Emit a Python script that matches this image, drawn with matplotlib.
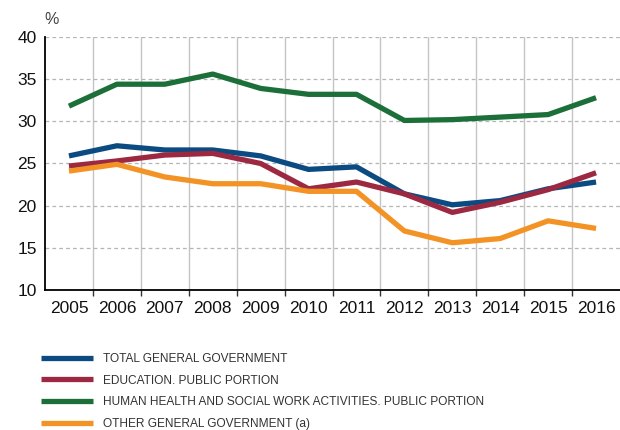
import matplotlib
matplotlib.use('Agg')
import matplotlib.pyplot as plt
from matplotlib.ticker import FixedLocator

# data (%)
years = ['2005', '2006', '2007', '2008', '2009', '2010',
         '2011', '2012', '2013', '2014', '2015', '2016']
total = [25.9, 27.1, 26.6, 26.6, 25.9, 24.3, 24.6, 21.4, 20.1, 20.6, 22.0, 22.8]
education = [24.7, 25.3, 26.0, 26.2, 25.0, 22.0, 22.8, 21.4, 19.2, 20.4, 21.9, 23.9]
health = [31.8, 34.4, 34.4, 35.6, 33.9, 33.2, 33.2, 30.1, 30.2, 30.5, 30.8, 32.8]
other = [24.1, 24.9, 23.4, 22.6, 22.6, 21.7, 21.7, 17.0, 15.6, 16.1, 18.2, 17.3]

labels = ['TOTAL GENERAL GOVERNMENT',
          'EDUCATION. PUBLIC PORTION',
          'HUMAN HEALTH AND SOCIAL WORK ACTIVITIES. PUBLIC PORTION',
          'OTHER GENERAL GOVERNMENT (a)']
colors = ['#0b4b82', '#9c2941', '#1d6f39', '#f39325']

plt.rcParams['font.family'] = ['Liberation Sans', 'DejaVu Sans']

fig = plt.figure(figsize=(6.2, 4.3), dpi=100)
ax = fig.add_axes([0.0726, 0.3256, 0.9274, 0.5884])

x = list(range(len(years)))
lines = []
for vals, c, lab in zip([total, education, health, other], colors, labels):
    l, = ax.plot(x, vals, color=c, lw=3.8, label=lab, solid_capstyle='butt', zorder=3)
    lines.append(l)

ax.set_xlim(-0.5, 11.5)
ax.set_ylim(10, 40)
ax.set_yticks([10, 15, 20, 25, 30, 35, 40])
ax.set_xticks(x)
ax.set_xticklabels(years)
ax.xaxis.set_minor_locator(FixedLocator([i + 0.5 for i in range(11)]))
ax.tick_params(axis='x', which='major', length=0, pad=8, labelsize=12.5, colors='#111111')
ax.tick_params(axis='x', which='minor', length=4, width=1, color='#333333')
ax.tick_params(axis='y', length=0, pad=6, labelsize=12.5, colors='#111111')

ax.grid(axis='y', which='major', linestyle=(0, (3, 2.5)), color='#b5b5b5', lw=0.9)
ax.grid(axis='x', which='minor', linestyle='-', color='#c4c4c4', lw=1.0)
ax.grid(axis='x', which='major', visible=False)
ax.set_axisbelow(True)

for s in ['top', 'right']:
    ax.spines[s].set_visible(False)
ax.spines['left'].set_linewidth(1.3)
ax.spines['bottom'].set_linewidth(1.3)

fig.text(0.083, 0.955, '%', fontsize=11.5, color='#444444', ha='center', va='center')

fig.legend(handles=lines, loc='upper left', bbox_to_anchor=(0.058, 0.19),
           frameon=False, handlelength=4.4, handletextpad=0.85,
           labelspacing=0.8, borderaxespad=0, labelcolor='#333333',
           prop={'family': ['Liberation Sans'], 'size': 8.6})

fig.savefig('out.png', dpi=100)
